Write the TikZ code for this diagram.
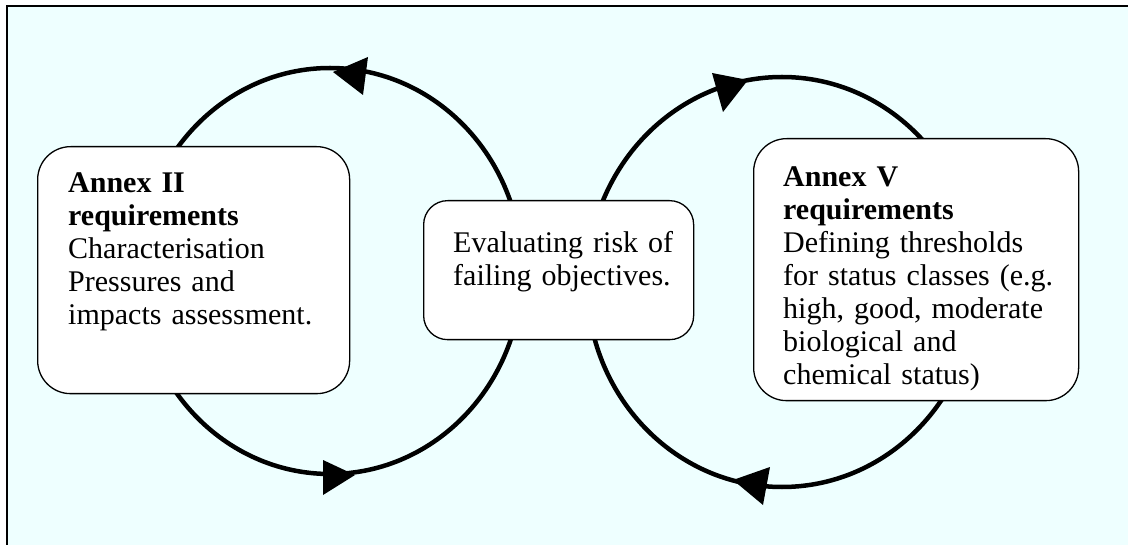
\documentclass[tikz,border=0pt]{standalone}
\usepackage{fontspec}
\setmainfont{Liberation Serif}
\usetikzlibrary{arrows.meta}
\definecolor{bgc}{RGB}{238,255,255}
\begin{document}
\begin{tikzpicture}[x=1pt,y=-1pt,
  box/.style={draw=black, line width=1.3pt, fill=white, rounded corners=#1, inner sep=0pt, anchor=north west},
  ring/.style={line width=4.5pt, black},
  head/.style={fill=black},
  txt/.style={inner sep=0pt, anchor=base west, align=left, text width=#1, font=\fontsize{30}{33}\selectfont},
]
\useasboundingbox (0,0) rectangle (1128,545);
\clip (0,0) rectangle (1128,545);
\fill[white] (0,0) rectangle (1128,545);
\draw[fill=bgc, line width=2pt] (7,6) rectangle (1140,560);

% loops
\draw[ring] (330,271) ellipse [x radius=192pt, y radius=203pt];
\draw[ring] (782,282) ellipse [x radius=195pt, y radius=205pt];

% arrowheads
\fill[head] (333,72) -- (368,57) -- (363,95) -- cycle;
\fill[head] (355,475) -- (323,460) -- (323,495) -- cycle;
\fill[head] (748,80) -- (712,73) -- (723,112) -- cycle;
\fill[head] (733,480) -- (770,467) -- (763,505) -- cycle;

% boxes
\node[box=33pt, minimum width=312pt, minimum height=247pt] (L) at (37,146) {};
\node[box=24pt, minimum width=270pt, minimum height=139pt] (C) at (423,200) {};
\node[box=33pt, minimum width=325pt, minimum height=262pt] (R) at (753,138) {};

% texts
\node[txt=275pt] (Lt) at (68,193) {\textbf{Annex II}\\ \textbf{requirements}\\ Characterisation\\ Pressures and\\ impacts assessment.};
\node[txt=235pt] (Ct) at (453,253) {Evaluating risk of\\ failing objectives.};
\node[txt=290pt] (Rt) at (783,187) {\textbf{Annex V}\\ \textbf{requirements}\\ Defining thresholds\\ for status classes (e.g.\\ high, good, moderate\\ biological and\\ chemical status)};
\end{tikzpicture}
\end{document}
